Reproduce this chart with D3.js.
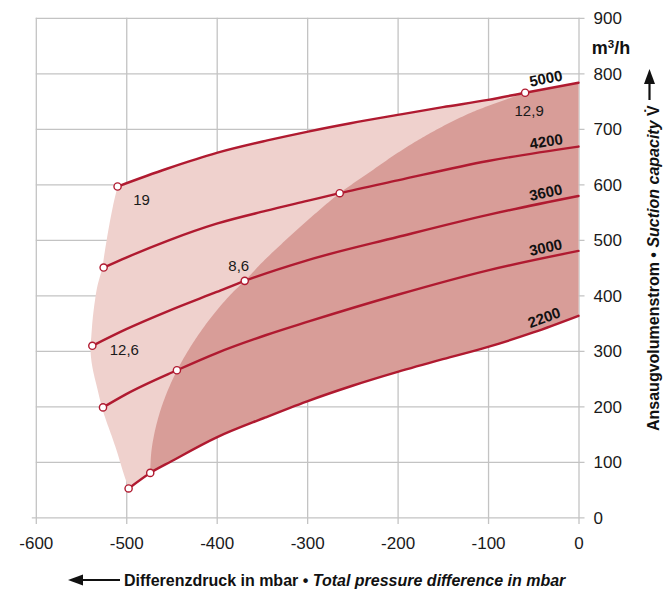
<!DOCTYPE html>
<html>
<head>
<meta charset="utf-8">
<script src="https://cdn.jsdelivr.net/npm/d3@7"></script>
<style>
  html, body { margin: 0; padding: 0; background: #fff; }
  svg { display: block; font-family: "Liberation Sans", Arial, Helvetica, sans-serif; }
</style>
</head>
<body>
<svg id="chart" width="671" height="599"></svg>
<script>
// ---------- data ----------
const xTicks = [-600, -500, -400, -300, -200, -100, 0];
const yTicks = [0, 100, 200, 300, 400, 500, 600, 700, 800, 900];
const seriesNames = ["5000", "4200", "3600", "3000", "2200"];

const s5000 = [[-509.6,596],[-455,628],[-399,657],[-344,679],[-299,695],[-252,710],[-200,725],[-150,739],[-100,752],[-59,765],[0,783]];
const s4200 = [[-525,450],[-500,468],[-453,499],[-400,529],[-346,552],[-300,570],[-264,584],[-200,607],[-100,642],[0,668]];
const s3600 = [[-537.5,309],[-500,339],[-453,372],[-400,406],[-369,426],[-300,463],[-200,505],[-100,545],[0,579]];
const s3000 = [[-525.7,198],[-500,222],[-444,265],[-400,296],[-346,328],[-300,352],[-200,401],[-100,445],[0,480]];
const s2200 = [[-497.4,52],[-473.5,80],[-450,101],[-400,144],[-346,180],[-300,209],[-250,237],[-200,262],[-150,285],[-100,307],[-50,333],[0,363]];
const seriesValues = [s5000, s4200, s3600, s3000, s2200];

// marked points on each series (start point and transition point)
const markers5000 = [[-509.6,596],[-59,765]];
const markers4200 = [[-525,450],[-264,584]];
const markers3600 = [[-537.5,309],[-369,426]];
const markers3000 = [[-525.7,198],[-444,265]];
const markers2200 = [[-497.4,52],[-473.5,80]];
const markerValues = [markers5000, markers4200, markers3600, markers3000, markers2200];

// point annotations
const pointLabels = ["19", "12,6", "8,6", "12,9"];
const pointLabelAt = [[-509.6,596],[-537.5,309],[-369,426],[-59,765]];

// envelope boundaries
const outerBoundary = [[-509.6,596],[-514,566],[-517.7,536],[-521,506],[-524,476],[-526.5,450],[-532,416],[-535,386],[-537.2,356],[-538.7,325],[-539.5,309],[-539,289],[-536.8,265],[-532.4,235],[-526.9,198],[-522.4,175],[-515.8,145],[-509.6,115],[-504.1,85],[-497.4,52]];
const innerBoundary = [[-473.5,80],[-472.4,116],[-468.8,152],[-462.9,189],[-455,225],[-445,261],[-432.8,297],[-418.5,333],[-401.9,369],[-382.5,405],[-369,426],[-349.9,459],[-326.7,495],[-302.4,531],[-264,584],[-231.6,621],[-199.6,657],[-163.1,693],[-118.9,729],[-59,765]];

const xTitleDe = "Differenzdruck in mbar • ";
const xTitleEn = "Total pressure difference in mbar";
const yTitleDe = "Ansaugvolumenstrom • ";
const yTitleEn = "Suction capacity ";
const yTitleSym = "V\u0307";

// ---------- layout ----------
const svg = d3.select("#chart");
const x = d3.scaleLinear().domain([-600, 0]).range([35.8, 578.5]);
const y = d3.scaleLinear().domain([0, 900]).range([517.3, 17.8]);

const gridColor = "#c3c3c3";
const lineColor = "#b01a30";
const lightFill = "#efd1cd";
const darkFill = "#d89d98";

// ---------- grid / axes ----------
const xAxis = svg.append("g")
  .attr("transform", `translate(0,${y(0)})`)
  .call(d3.axisBottom(x).tickValues(xTicks).tickSize(0).tickFormat(d => d));
xAxis.select(".domain").remove();
xAxis.selectAll(".tick line")
  .attr("y1", 6.7).attr("y2", y(900) - y(0))
  .attr("stroke", gridColor).attr("stroke-width", 1.3);
xAxis.selectAll(".tick text")
  .attr("y", 31.5).attr("dy", 0)
  .attr("font-size", 17).attr("fill", "#1a1a1a")
  .attr("font-family", "Liberation Sans, Arial, sans-serif");

const yAxis = svg.append("g")
  .attr("transform", `translate(${x(0)},0)`)
  .call(d3.axisRight(y).tickValues(yTicks).tickSize(0).tickFormat(d => d));
yAxis.select(".domain").remove();
yAxis.selectAll(".tick line")
  .attr("x1", d => d === 0 ? x(-600) - 4 - x(0) : x(-600) - x(0))
  .attr("x2", 6)
  .attr("stroke", gridColor).attr("stroke-width", 1.3);
yAxis.selectAll(".tick text")
  .attr("x", 15).attr("dy", "0.36em")
  .attr("font-size", 17).attr("fill", "#1a1a1a")
  .attr("font-family", "Liberation Sans, Arial, sans-serif");

// ---------- helpers ----------
const toPx = pts => pts.map(p => [x(p[0]), y(p[1])]);
const seriesLine = d3.line().x(d => x(d[0])).y(d => y(d[1])).curve(d3.curveMonotoneX);
const smoothPx = d3.line().curve(d3.curveCatmullRom.alpha(0.5));
const straight = d3.line();

const tmp = svg.append("path").attr("fill", "none").attr("stroke", "none");
function samplePath(d, n) {
  tmp.attr("d", d);
  const node = tmp.node();
  const L = node.getTotalLength();
  const out = [];
  for (let i = 0; i <= n; i++) {
    const p = node.getPointAtLength(L * i / n);
    out.push([p.x, p.y]);
  }
  return out;
}

const top5000 = samplePath(seriesLine(s5000), 300);
const bot2200 = samplePath(seriesLine(s2200), 300);
const outerPx = samplePath(smoothPx(toPx(outerBoundary)), 200);
const innerPx = samplePath(smoothPx(toPx(innerBoundary)), 250);

const lightPoly = [].concat(outerPx).concat(bot2200).concat(top5000.slice().reverse());
const x129 = x(-59), x2200b = x(-473.5);
const darkPoly = []
  .concat(innerPx)
  .concat(top5000.filter(p => p[0] > x129 + 0.1))
  .concat(bot2200.filter(p => p[0] > x2200b + 0.1).reverse());
tmp.remove();

const fills = svg.append("g");
fills.append("path").attr("d", straight(lightPoly) + "Z").attr("fill", lightFill);
fills.append("path").attr("d", straight(darkPoly) + "Z").attr("fill", darkFill);

// ---------- series lines ----------
const lines = svg.append("g");
seriesValues.forEach(s => {
  lines.append("path").attr("d", seriesLine(s))
    .attr("fill", "none").attr("stroke", lineColor)
    .attr("stroke-width", 2.4).attr("stroke-linecap", "round");
});

// series labels near the right end
seriesValues.forEach((s, i) => {
  const n = s.length;
  const a = s[n - 2], b = s[n - 1];
  const lx = -34;
  const t = (lx - a[0]) / (b[0] - a[0]);
  const ly = a[1] + t * (b[1] - a[1]);
  const ang = Math.atan2(y(b[1]) - y(a[1]), x(b[0]) - x(a[0])) * 180 / Math.PI;
  svg.append("text")
    .attr("transform", `translate(${x(lx)},${y(ly)}) rotate(${ang})`)
    .attr("x", 0).attr("y", -5)
    .attr("text-anchor", "middle")
    .attr("font-size", 15).attr("font-weight", "bold").attr("fill", "#111")
    .text(seriesNames[i]);
});

// markers
const mk = svg.append("g");
markerValues.forEach(ms => {
  ms.forEach(p => {
    mk.append("circle").attr("cx", x(p[0])).attr("cy", y(p[1])).attr("r", 3.6)
      .attr("fill", "#fff").attr("stroke", lineColor).attr("stroke-width", 1.4);
  });
});

// point annotations
const labelOffsets = [[24, 18], [32, 9.5], [-6, -10], [4, 23]];
pointLabels.forEach((lbl, i) => {
  const p = pointLabelAt[i];
  svg.append("text")
    .attr("x", x(p[0]) + labelOffsets[i][0])
    .attr("y", y(p[1]) + labelOffsets[i][1])
    .attr("text-anchor", "middle")
    .attr("font-size", 15).attr("fill", "#1a1a1a")
    .text(lbl);
});

// ---------- titles ----------
svg.append("text").attr("x", 611).attr("y", 54)
  .attr("text-anchor", "middle").attr("font-size", 18).attr("font-weight", "bold")
  .attr("fill", "#111")
  .html('m<tspan dy="-6.5" font-size="11.5">3</tspan><tspan dy="6.5">/h</tspan>');

// bottom title
const bt = svg.append("text").attr("x", 124).attr("y", 585.5)
  .attr("font-size", 16).attr("font-weight", "bold").attr("fill", "#111");
bt.append("tspan").text(xTitleDe);
bt.append("tspan").attr("font-style", "italic").text(xTitleEn);
svg.append("line").attr("x1", 120).attr("x2", 78).attr("y1", 580).attr("y2", 580)
  .attr("stroke", "#111").attr("stroke-width", 2.2);
svg.append("path").attr("d", "M68,580 L83,574.5 L83,585.5 Z").attr("fill", "#111");

// right title
const rt = svg.append("text").attr("transform", "translate(658.5,431) rotate(-90)")
  .attr("font-size", 16).attr("font-weight", "bold").attr("fill", "#111");
rt.append("tspan").text(yTitleDe);
rt.append("tspan").attr("font-style", "italic").text(yTitleEn);
rt.append("tspan").text(yTitleSym);
svg.append("line").attr("x1", 649.5).attr("x2", 649.5).attr("y1", 100).attr("y2", 80)
  .attr("stroke", "#111").attr("stroke-width", 2.2);
svg.append("path").attr("d", "M649.5,69 L644,84 L655,84 Z").attr("fill", "#111");
</script>
</body>
</html>
